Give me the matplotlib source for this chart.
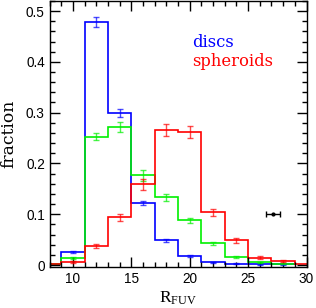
import matplotlib
matplotlib.use("Agg")
import matplotlib.pyplot as plt
from matplotlib.ticker import MultipleLocator
import numpy as np

# bin edges (2 mag wide) and bin centres
edges = [7, 9, 11, 13, 15, 17, 19, 21, 23, 25, 27, 29]
red_edges = [7, 9, 11, 13, 15, 17, 19, 21, 23, 25, 27, 29, 31]
centres = [10, 12, 14, 16, 18, 20, 22, 24, 26, 28]

# discs
blue = [0.001, 0.026, 0.478, 0.299, 0.123, 0.049, 0.018, 0.005, 0.002, 0.001, 0.001]
blue_err = [0.002, 0.010, 0.008, 0.004, 0.003, 0.002, 0.001, 0.001, 0.0005, 0.0005]
# all galaxies
green = [0.001, 0.013, 0.253, 0.271, 0.177, 0.133, 0.088, 0.043, 0.015, 0.005, 0.002]
green_err = [0.002, 0.007, 0.010, 0.011, 0.006, 0.005, 0.003, 0.002, 0.001, 0.001]
# spheroids
red = [0.001, 0.005, 0.038, 0.094, 0.159, 0.266, 0.262, 0.104, 0.049, 0.014, 0.007, 0.001]
red_err = [0.002, 0.004, 0.007, 0.011, 0.012, 0.012, 0.007, 0.005, 0.003, 0.002]

# typical error point
typ_x, typ_y, typ_xerr = 27.1, 0.100, 0.6

fig = plt.figure(figsize=(3.16, 3.08), dpi=100)
ax = fig.add_axes([0.157, 0.133, 0.813, 0.864])

for vals, errs, eds, col in [
    (blue, blue_err, edges, "#0000ff"),
    (green, green_err, edges, "#00f000"),
    (red, red_err, red_edges, "#ff0000"),
]:
    ax.stairs(vals, eds, color=col, lw=1.2, baseline=None)
    ax.errorbar(centres, vals[1:len(centres) + 1], yerr=errs, fmt="none",
                ecolor=col, elinewidth=1.0, capsize=2.2, alpha=0.7)

ax.errorbar([typ_x], [typ_y], xerr=[typ_xerr], fmt="o", ms=2, color="black",
            elinewidth=1.0, capsize=2.5)

ax.set_xlim(8, 30)
ax.set_ylim(-0.004, 0.52)
ax.xaxis.set_major_locator(MultipleLocator(5))
ax.xaxis.set_minor_locator(MultipleLocator(1))
ax.yaxis.set_major_locator(MultipleLocator(0.1))
ax.yaxis.set_minor_locator(MultipleLocator(0.02))
ax.tick_params(which="both", direction="in", top=True, right=True, width=1.0)
ax.tick_params(which="major", length=7)
ax.tick_params(which="minor", length=3.5)
ax.set_yticks([0, 0.1, 0.2, 0.3, 0.4, 0.5])
ax.set_yticklabels(["0", "0.1", "0.2", "0.3", "0.4", "0.5"])
for lab in ax.get_xticklabels() + ax.get_yticklabels():
    lab.set_family("Liberation Sans")
    lab.set_fontsize(9.8)
for s in ax.spines.values():
    s.set_linewidth(1.0)

ax.set_ylabel("fraction", family="DejaVu Serif", fontsize=12.3, labelpad=6)
ax.set_xlabel(r"$\mathregular{R_{FUV}}$", family="Liberation Serif", fontsize=12.5, labelpad=3)

ax.text(0.555, 0.826, "discs", transform=ax.transAxes, color="#0000ff",
        family="DejaVu Serif", fontsize=11.8)
ax.text(0.555, 0.757, "spheroids", transform=ax.transAxes, color="#ff0000",
        family="DejaVu Serif", fontsize=11.8)

fig.savefig("out.png", dpi=100)
